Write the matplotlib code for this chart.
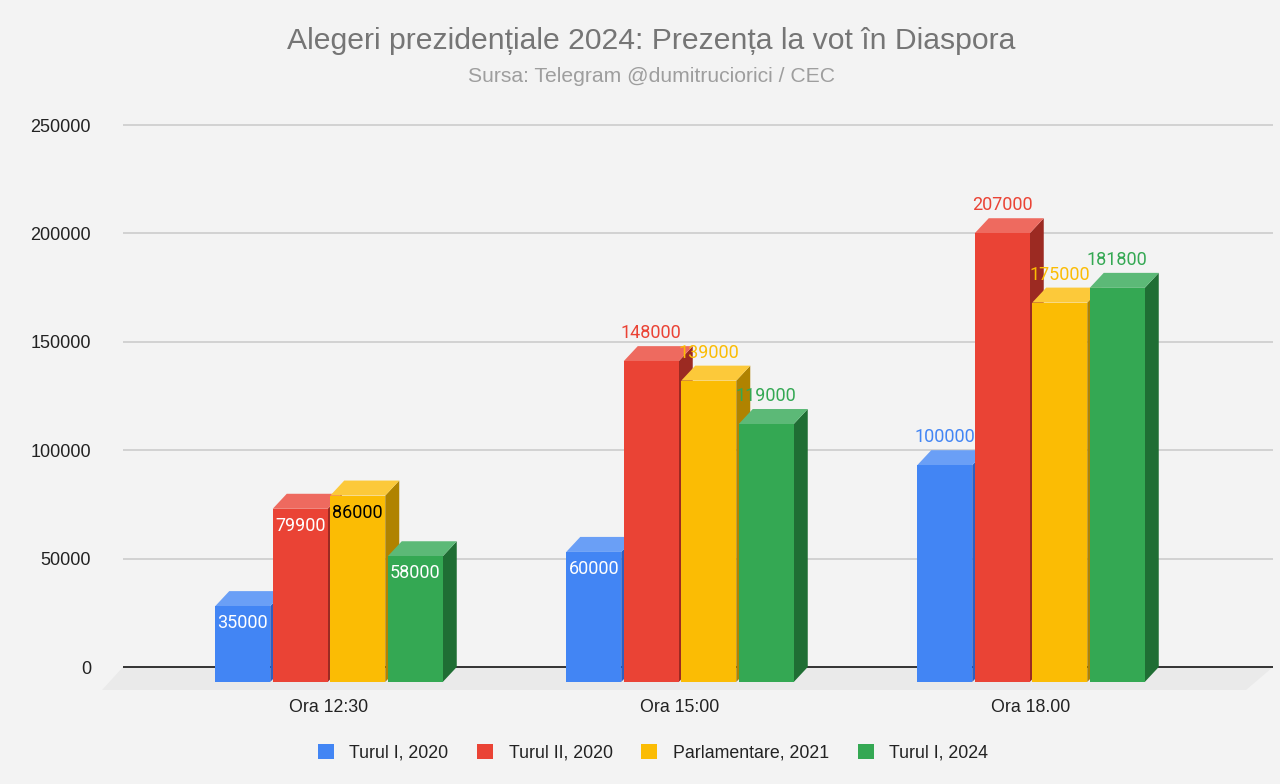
import matplotlib
matplotlib.use("Agg")
import matplotlib.pyplot as plt
from matplotlib.patches import Polygon, Rectangle, Patch

# ---------------- data ----------------
categories = ["Ora 12:30", "Ora 15:00", "Ora 18.00"]
series_names = ["Turul I, 2020", "Turul II, 2020", "Parlamentare, 2021", "Turul I, 2024"]
turul1_2020 = [35000, 60000, 100000]
turul2_2020 = [79900, 148000, 207000]
parlam_2021 = [86000, 139000, 175000]
turul1_2024 = [58000, 119000, 181800]
series_values = [turul1_2020, turul2_2020, parlam_2021, turul1_2024]
y_ticks = [0, 50000, 100000, 150000, 200000, 250000]

title = "Alegeri prezidențiale 2024: Prezența la vot în Diaspora"
subtitle = "Sursa: Telegram @dumitruciorici / CEC"

# label placement as in the original (inside the bar or above it)
label_modes = [["in", "in", "out"],
               ["in", "out", "out"],
               ["in", "out", "out"],
               ["in", "out", "out"]]

# ---------------- style ----------------
front_colors = ["#4285F4", "#EA4335", "#FBBC04", "#34A853"]
top_colors = ["#6A9FF6", "#EE6A5F", "#FCC93A", "#5CB977"]
side_colors = ["#2F5FC0", "#9C2A22", "#B08300", "#1F6E34"]
inside_text = ["white", "white", "black", "white"]
outside_text = ["#4285F4", "#EA4335", "#FBBC04", "#34A853"]
BG = "#F3F3F3"

W, H = 1280, 784
fig = plt.figure(figsize=(W / 100, H / 100), dpi=100, facecolor=BG)

# pixel layout
ax_left_px, ax_right_px = 123, 1273
ax_top_px, ax_bot_px = 110, 700
base_px, top_tick_px = 667, 125
k = 250000 / (base_px - top_tick_px)          # value units per pixel
group_px = 351                                 # pixels per category
first_center_px = 329

ax = fig.add_axes([ax_left_px / W, 1 - ax_bot_px / H,
                   (ax_right_px - ax_left_px) / W, (ax_bot_px - ax_top_px) / H])
ax.set_facecolor(BG)
x0 = (ax_left_px - first_center_px) / group_px
x1 = (ax_right_px - first_center_px) / group_px
ax.set_xlim(x0, x1)
ax.set_ylim(-(ax_bot_px - base_px) * k, 250000 + (top_tick_px - ax_top_px) * k)
for s in ax.spines.values():
    s.set_visible(False)

# 3D offsets
dx = 14 / group_px
dy = 15 * k
bw = 55 / group_px
step = 57.5 / group_px

# floor
fdx = 21 / group_px
fdy = 23 * k
floor = Polygon([(x0 - fdx, -fdy), (x1 - 27 / group_px, -fdy), (x1, 0), (x0, 0)],
                closed=True, facecolor="#EAEAEA", edgecolor="none", zorder=0.5, clip_on=False)
ax.add_patch(floor)

# gridlines
for t in y_ticks[1:]:
    ax.axhline(t, color="#CCCCCC", lw=1.2, zorder=1)
ax.axhline(0, color="#333333", lw=1.4, zorder=1.2)

ax.set_yticks(y_ticks)
ax.set_yticklabels([str(t) for t in y_ticks], fontsize=13, family="Liberation Sans", color="#222222")
ax.tick_params(axis="y", length=0, pad=(ax_left_px - 91) * 0.72)
ax.set_xticks(range(len(categories)))
ax.set_xticklabels(categories, fontsize=12.8, family="Liberation Sans", color="#222222")
ax.tick_params(axis="x", length=0, pad=-1)

# bars
z = 2
for gi in range(len(categories)):
    for si, vals in enumerate(series_values):
        v = vals[gi]
        xl = gi + (si - 1.5) * step - bw / 2
        xr = xl + bw
        front = Rectangle((xl, -dy), bw, v, facecolor=front_colors[si], edgecolor="none", zorder=z)
        top = Polygon([(xl, v - dy), (xr, v - dy), (xr + dx, v), (xl + dx, v)],
                      closed=True, facecolor=top_colors[si], edgecolor="none", zorder=z)
        side = Polygon([(xr, -dy), (xr + dx, 0), (xr + dx, v), (xr, v - dy)],
                       closed=True, facecolor=side_colors[si], edgecolor="none", zorder=z)
        ax.add_patch(side)
        ax.add_patch(top)
        ax.add_patch(front)
        cx = (xl + xr) / 2
        if label_modes[si][gi] == "in":
            ax.text(cx, v - dy - 17 * k, str(v), ha="center", va="center", fontsize=13,
                    family="Roboto", color=inside_text[si], zorder=z + 0.5)
        else:
            ax.text(cx, v - dy + 28 * k, str(v), ha="center", va="center", fontsize=13,
                    family="Roboto", color=outside_text[si], zorder=50)
        z += 1

# titles
fig.text(651.5 / W, 1 - 41 / H, title, ha="center", va="center", fontsize=21.7,
         family="Liberation Sans", color="#757575")
fig.text(652 / W, 1 - 77 / H, subtitle, ha="center", va="center", fontsize=15.2,
         family="Liberation Sans", color="#9E9E9E")

# legend
handles = [Patch(facecolor=c, edgecolor="none") for c in front_colors]
leg = fig.legend(handles, series_names, loc="center", bbox_to_anchor=(653 / W, 1 - 753 / H),
                 ncol=4, frameon=False, handlelength=0.9, handleheight=0.9,
                 handletextpad=0.85, columnspacing=1.63,
                 prop={"family": "Liberation Sans", "size": 12.8})
for t in leg.get_texts():
    t.set_color("#222222")

fig.savefig("out.png", dpi=100, facecolor=BG)
